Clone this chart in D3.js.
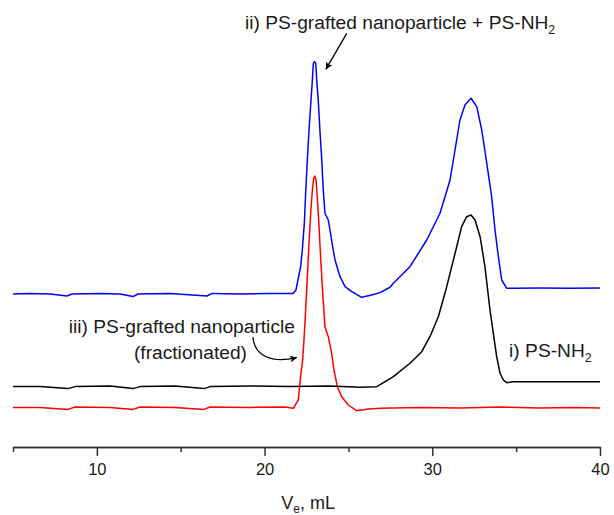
<!DOCTYPE html>
<html>
<head>
<meta charset="utf-8">
<script src="https://cdn.jsdelivr.net/npm/d3@7"></script>
<style>
  body { margin: 0; background: #fff; }
  text { font-family: "Liberation Sans", Arial, sans-serif; fill: #1a1a1a; }
</style>
</head>
<body>
<script>
// elution volume (mL) and detector signal (arb. units)
var bluePS = [
  [5.00, 38.25], [6.01, 38.4], [7.21, 38.25], [8.22, 37.75], [8.52, 38.25], [10.19, 38.4],
  [11.38, 38.25], [12.16, 37.6], [12.45, 38.25], [14.36, 38.4], [16.57, 37.75], [16.87, 38.4],
  [18.54, 38.25], [20.32, 38.4], [21.70, 38.4], [21.87, 39.25], [22.15, 45.08], [22.25, 49.25],
  [22.37, 55.93], [22.45, 63.43], [22.55, 71.75], [22.65, 79.25], [22.77, 86.75], [22.85, 91.75],
  [22.91, 95.93], [22.97, 96.33], [23.05, 95.93], [23.11, 91.75], [23.20, 86.75], [23.31, 78.43],
  [23.41, 71.75], [23.50, 64.25], [23.60, 58.43], [23.80, 56.75], [23.90, 54.25], [24.06, 50.08],
  [24.20, 46.75], [24.50, 42.58], [24.80, 40.08], [25.20, 38.83], [25.79, 37.43], [26.39, 38.0],
  [26.88, 38.6], [27.48, 39.93], [27.68, 40.93], [28.67, 45.08], [29.67, 51.75], [30.46, 58.43],
  [31.06, 66.75], [31.65, 81.75], [31.95, 85.5], [32.31, 87.18], [32.65, 85.08], [32.95, 79.25],
  [33.25, 70.93], [33.54, 62.58], [33.74, 54.25], [33.94, 47.58], [34.14, 41.75], [34.44, 39.68],
  [34.83, 39.68], [36.42, 39.75], [38.21, 39.7], [40.00, 39.75]
];

var blackPS = [
  [5.00, 15.1], [6.61, 15.1], [8.28, 14.6], [8.70, 15.1], [10.78, 15.25], [12.16, 14.6],
  [12.57, 15.1], [14.66, 15.25], [16.39, 14.6], [16.75, 15.1], [19.13, 15.25], [21.52, 15.1],
  [23.90, 15.25], [25.69, 14.93], [26.69, 15.08], [27.68, 17.58], [28.67, 20.93], [29.37, 23.83],
  [29.86, 27.58], [30.36, 32.58], [30.86, 40.08], [31.36, 48.43], [31.75, 55.08], [32.05, 57.58],
  [32.31, 58.0], [32.55, 56.75], [32.85, 52.58], [33.14, 45.08], [33.44, 34.25], [33.64, 28.43],
  [33.84, 22.58], [34.04, 18.43], [34.24, 16.75], [34.44, 16.08], [34.83, 16.33], [40.00, 16.33]
];

var redPS = [
  [5.00, 9.9], [6.61, 9.9], [8.28, 9.4], [8.70, 10.0], [10.78, 9.9], [12.16, 9.4],
  [12.57, 10.0], [14.66, 9.9], [16.39, 9.4], [16.75, 10.0], [19.13, 9.9], [21.22, 10.0],
  [21.71, 9.68], [22.01, 11.75], [22.15, 17.58], [22.27, 21.75], [22.35, 26.75], [22.45, 34.25],
  [22.55, 42.58], [22.65, 50.93], [22.75, 58.43], [22.85, 64.25], [22.93, 67.18], [22.99, 67.75],
  [23.07, 66.75], [23.14, 62.58], [23.25, 55.08], [23.35, 46.75], [23.47, 38.43], [23.60, 30.08],
  [23.80, 27.58], [24.00, 23.43], [24.14, 19.25], [24.34, 15.08], [24.60, 12.58], [24.99, 10.5],
  [25.49, 9.08], [26.09, 9.43], [26.88, 9.68], [29.27, 9.9], [31.65, 9.75], [34.04, 10.0],
  [36.42, 9.75], [38.51, 9.9], [40.00, 9.75]
];

var majorTicks = [10, 20, 30, 40];
var minorTicks = [5, 15, 25, 35];

var w = 614;
var h = 515;

var x = d3.scaleLinear().domain([5, 40]).range([13, 600]);
var y = d3.scaleLinear().domain([0, 100]).range([447, 47]);

var svg = d3.select("body")
    .append("svg")
    .attr("width", w)
    .attr("height", h);

var defs = svg.append("defs");
defs.append("marker")
    .attr("id", "head")
    .attr("viewBox", "0 0 10 10")
    .attr("refX", 10)
    .attr("refY", 5)
    .attr("markerWidth", 9)
    .attr("markerHeight", 7)
    .attr("markerUnits", "userSpaceOnUse")
    .attr("orient", "auto")
    .append("path")
    .attr("d", "M0,0 L10,5 L0,10 L2.5,5 Z")
    .attr("fill", "#000");

//Traces
var line = d3.line()
    .x(function (d) { return x(d[0]); })
    .y(function (d) { return y(d[1]); });

[[redPS, "#ff0000"], [blackPS, "#000000"], [bluePS, "#0000ff"]].forEach(function (s) {
    svg.append("path")
        .datum(s[0])
        .attr("d", line)
        .attr("fill", "none")
        .attr("stroke", s[1])
        .attr("stroke-width", 1.5)
        .attr("stroke-linejoin", "round");
});

//Bottom axis, minor ticks first
var axisG = svg.append("g").attr("transform", "translate(0," + y(0) + ")");
axisG.append("g")
    .call(d3.axisBottom(x).tickValues(minorTicks).tickSize(5).tickSizeOuter(0).tickFormat(""));
axisG.append("g")
    .call(d3.axisBottom(x).tickValues(majorTicks).tickSize(9).tickSizeOuter(0).tickPadding(7).tickFormat(d3.format("d")));
axisG.selectAll("path.domain").attr("stroke", "#333").attr("stroke-width", 1.5);
axisG.selectAll(".tick line").attr("stroke", "#333").attr("stroke-width", 1.5);
axisG.selectAll(".tick text")
    .attr("font-family", "Liberation Sans, Arial, sans-serif")
    .attr("font-size", 16.5)
    .attr("fill", "#1a1a1a");

//Axis title
var xt = svg.append("text")
    .attr("x", x(22.6))
    .attr("y", 509)
    .attr("text-anchor", "middle")
    .attr("font-size", 18);
xt.append("tspan").text("V");
xt.append("tspan").attr("font-size", 12).attr("dy", 4).text("e");
xt.append("tspan").attr("dy", -4).text(", mL");

//Annotations
var t1 = svg.append("text")
    .attr("x", x(18.83))
    .attr("y", y(104.6))
    .attr("font-size", 19.2);
t1.append("tspan").text("ii) PS-grafted nanoparticle + PS-NH");
t1.append("tspan").attr("font-size", 12.5).attr("dy", 5).text("2");

svg.append("line")
    .attr("x1", x(24.90)).attr("y1", y(103.4))
    .attr("x2", x(23.65)).attr("y2", y(94.4))
    .attr("stroke", "#000")
    .attr("stroke-width", 1.3)
    .attr("marker-end", "url(#head)");

var t2 = svg.append("text")
    .attr("x", x(34.58))
    .attr("y", y(22.5))
    .attr("font-size", 19.2);
t2.append("tspan").text("i) PS-NH");
t2.append("tspan").attr("font-size", 12.5).attr("dy", 5).text("2");

svg.append("text")
    .attr("x", x(21.81))
    .attr("y", y(28.5))
    .attr("text-anchor", "end")
    .attr("font-size", 19.2)
    .text("iii) PS-grafted nanoparticle");

svg.append("text")
    .attr("x", x(18.95))
    .attr("y", y(22))
    .attr("text-anchor", "end")
    .attr("font-size", 19.2)
    .text("(fractionated)");

var cx0 = x(19.31), cy0 = y(27.5), cx1 = x(21.93), cy1 = y(22.4);
svg.append("path")
    .attr("d", "M" + cx0 + "," + cy0 + " C" + (cx0 + 1) + "," + (cy0 + 18) + " " + (cx0 + 18) + "," + (cy0 + 27) + " " + cx1 + "," + cy1)
    .attr("fill", "none")
    .attr("stroke", "#000")
    .attr("stroke-width", 1.2)
    .attr("marker-end", "url(#head)");
</script>
</body>
</html>
